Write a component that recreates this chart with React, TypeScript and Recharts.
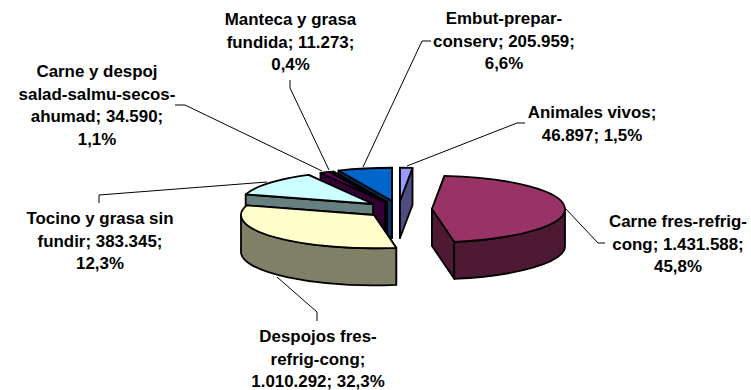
import React from 'react';
import { PieChart, Pie } from 'recharts';

const sliceNames = [
  'Animales vivos',
  'Carne fres-refrig-cong',
  'Despojos fres-refrig-cong',
  'Tocino y grasa sin fundir',
  'Carne y despoj salad-salmu-secos-ahumad',
  'Manteca y grasa fundida',
  'Embut-prepar-conserv',
];
const sliceValues = [46897, 1431588, 1010292, 383345, 34590, 11273, 205959];
const sliceLabels = [
  ['Animales vivos;', '46.897; 1,5%'],
  ['Carne fres-refrig-', 'cong; 1.431.588;', '45,8%'],
  ['Despojos fres-', 'refrig-cong;', '1.010.292; 32,3%'],
  ['Tocino y grasa sin', 'fundir; 383.345;', '12,3%'],
  ['Carne y despoj', 'salad-salmu-secos-', 'ahumad; 34.590;', '1,1%'],
  ['Manteca y grasa', 'fundida; 11.273;', '0,4%'],
  ['Embut-prepar-', 'conserv; 205.959;', '6,6%'],
];

const tableData = sliceNames.map((name, i) => ({ name, value: sliceValues[i] }));

const topColors = ['#9999ff', '#993366', '#ffffcc', '#ccffff', '#660066', '#660066', '#0066cc'];
const sideColors = ['#4d4d80', '#4d1933', '#808066', '#668080', '#330033', '#330033', '#003366'];

// exploded pie: every slice has its own centre, listed back to front
const paintOrder = [
  { index: 0, cx: 400, cy: 201 },
  { index: 6, cx: 392, cy: 201 },
  { index: 5, cx: 387, cy: 202 },
  { index: 4, cx: 385, cy: 202 },
  { index: 3, cx: 373, cy: 204 },
  { index: 2, cx: 374, cy: 215 },
  { index: 1, cx: 432, cy: 209 },
];

const labelLayout = [
  { x: 592, y: 118, leader: '525,123 517,123 407,166' },
  { x: 678, y: 227, leader: '605,243 598,243 565,208' },
  { x: 318, y: 342, leader: '317,321 317,312 277,277' },
  { x: 100, y: 224, leader: '99,203 99,195 267,182' },
  { x: 97, y: 77, leader: '175,105 185,105 322,171' },
  { x: 290.5, y: 25, leader: '290,80 290,88 329,170' },
  { x: 504, y: 24, leader: '431,41 422,41 363,167' },
];

const RADIUS = 133;
const TILT = 0.25;
const DEPTH = 37;
const LINE_STEP = 22.5;
const RAD = Math.PI / 180;

const SliceShape = (props: any) => {
  const { cx, cy, startAngle, endAngle, outerRadius } = props;
  const name = props.payload?.name ?? props.name;
  const i = sliceNames.indexOf(name);
  const rx = outerRadius;
  const ry = outerRadius * TILT;
  const px = (a: number) => cx + rx * Math.cos(a * RAD);
  const py = (a: number) => cy - ry * Math.sin(a * RAD);
  const s = Math.max(startAngle, endAngle);
  const e = Math.min(startAngle, endAngle);
  const large = s - e > 180 ? 1 : 0;
  const top = `M${cx},${cy} L${px(s)},${py(s)} A${rx},${ry} 0 ${large} 1 ${px(e)},${py(e)} Z`;
  const face = (a: number) =>
    `M${cx},${cy} L${px(a)},${py(a)} L${px(a)},${py(a) + DEPTH} L${cx},${cy + DEPTH} Z`;
  // the face lower on screen is the one in front
  const [backFace, frontFace] = py(s) < py(e) ? [s, e] : [e, s];
  // the outer wall only shows on the front half of the ellipse
  const w0 = Math.min(s, 0);
  const w1 = Math.max(e, -180);
  const wall =
    w0 > w1
      ? `M${px(w0)},${py(w0)} A${rx},${ry} 0 0 1 ${px(w1)},${py(w1)} L${px(w1)},${py(w1) + DEPTH} A${rx},${ry} 0 0 0 ${px(w0)},${py(w0) + DEPTH} Z`
      : null;
  const line = { stroke: '#000', strokeWidth: 1.8, strokeLinejoin: 'round' as const };
  return (
    <g>
      <path d={face(backFace)} fill={sideColors[i]} {...line} />
      <path d={face(frontFace)} fill={sideColors[i]} {...line} />
      {wall && <path d={wall} fill={sideColors[i]} {...line} />}
      <path d={top} fill={topColors[i]} {...line} />
    </g>
  );
};

const renderLabel = (props: any) => {
  const layout = labelLayout[props.index];
  return (
    <g key={props.index}>
      <polyline points={layout.leader} fill="none" stroke="#000" strokeWidth={1} />
      <text
        textAnchor="middle"
        fontFamily="'Liberation Sans', Arial, sans-serif"
        fontWeight="bold"
        fontSize={16.9}
        fill="#000"
      >
        {sliceLabels[props.index].map((t, n) => (
          <tspan key={n} x={layout.x} y={layout.y + n * LINE_STEP}>
            {t}
          </tspan>
        ))}
      </text>
    </g>
  );
};

const App = () => {
  return (
    <div style={{ position: 'absolute', left: 0, top: 0, background: '#fff' }}>
      <PieChart width={751} height={390} margin={{ top: 0, right: 0, bottom: 0, left: 0 }}>
        {paintOrder.map((p) => (
          <Pie
            key={p.index}
            data={tableData}
            dataKey="value"
            nameKey="name"
            cx={p.cx}
            cy={p.cy}
            innerRadius={0}
            outerRadius={RADIUS}
            startAngle={90}
            endAngle={-270}
            isAnimationActive={false}
            shape={(s: any) =>
              (s.payload?.name ?? s.name) === sliceNames[p.index] ? <SliceShape {...s} /> : <g />
            }
          />
        ))}
        <Pie
          data={tableData}
          dataKey="value"
          nameKey="name"
          cx={385}
          cy={205}
          innerRadius={0}
          outerRadius={RADIUS}
          startAngle={90}
          endAngle={-270}
          isAnimationActive={false}
          shape={() => <g />}
          label={renderLabel}
          labelLine={false}
        />
      </PieChart>
    </div>
  );
};

export default App;
